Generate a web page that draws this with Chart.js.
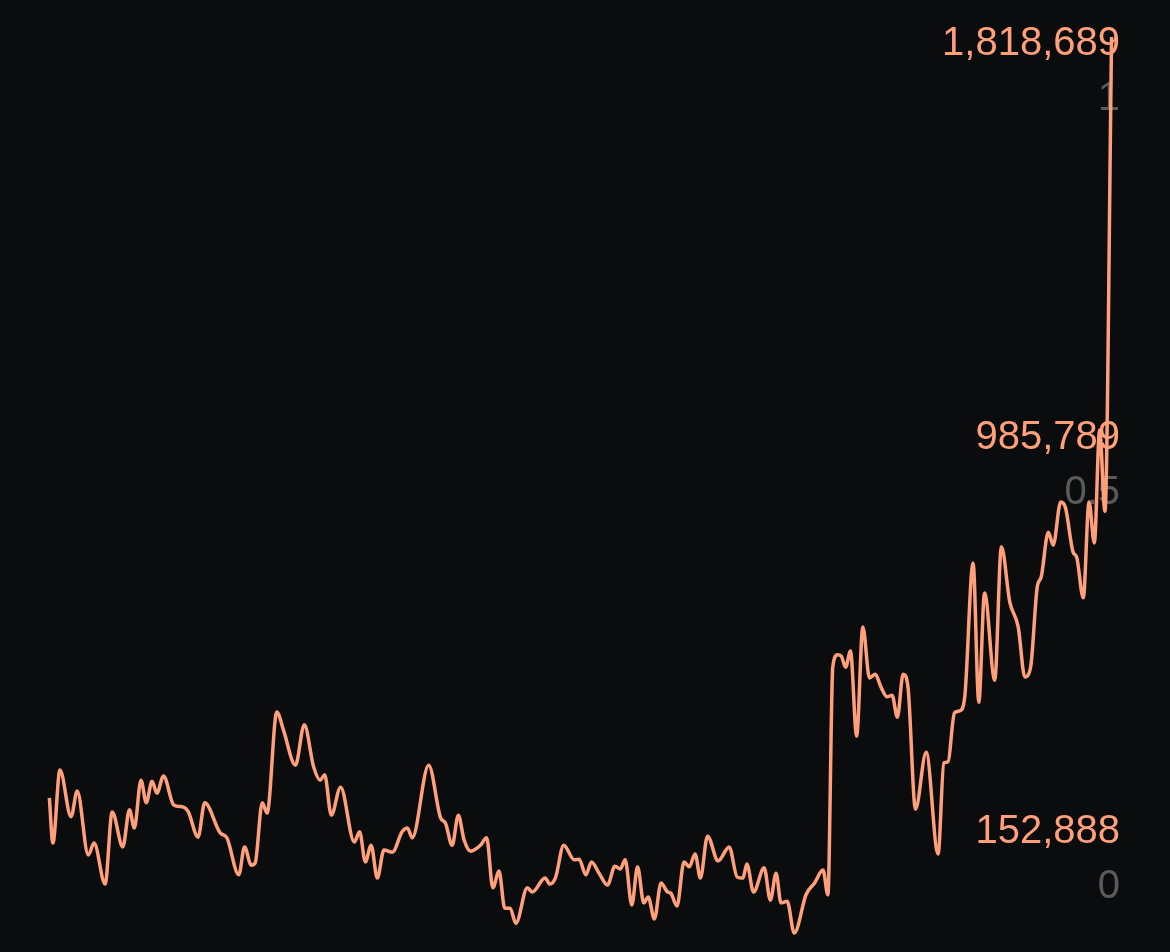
<!DOCTYPE html>
<html>
<head>
<meta charset="utf-8">
<script src="https://cdn.jsdelivr.net/npm/chart.js@4.4.1/dist/chart.umd.min.js"></script>
<style>
  html, body { margin: 0; padding: 0; background: #0b0c0e; }
  #wrap { width: 1170px; height: 952px; position: relative; }
</style>
</head>
<body>
<div id="wrap"><canvas id="chart"></canvas></div>
<script>
// Series (day index, value)
const days = [
  0, 0.8, 2.4, 4.9, 6.3, 8.8, 10.1, 12.6, 14.2, 16.6, 18.1, 19.2, 20.7, 21.9, 23.2, 24.3,
  25.8, 28.1, 30.3, 31.4, 33.6, 35.1, 38.6, 40.1, 42.8, 44.1, 45.6, 46.5, 48.1, 49.2, 51.4, 52.9,
  55.6, 57.6, 59.7, 61.2, 62.2, 63.7, 65.8, 68.9, 70.1, 71.4, 72.7, 74.1, 75.6, 77.5, 79.7, 80.9,
  82.0, 85.7, 88.4, 89.5, 91.0, 92.4, 93.7, 95.2, 97.4, 98.8, 100.2, 101.6, 102.9, 104.1, 105.4, 108.0,
  109.1, 112.0, 113.1, 114.4, 116.2, 118.6, 119.7, 121.2, 122.5, 124.2, 126.1, 127.8, 129.0, 130.1, 131.6, 132.9,
  134.3, 135.3, 136.7, 138.2, 139.7, 140.4, 141.8, 143.4, 144.6, 145.9, 147.1, 148.7, 151.1, 153.6, 155.4, 156.7,
  157.6, 159.1, 161.5, 162.9, 164.2, 165.3, 166.7, 168.3, 171.0, 172.9, 174.8, 175.9, 177.0, 178.1, 178.9, 179.9,
  181.0, 182.4, 183.8, 185.3, 186.6, 187.9, 189.3, 190.4, 191.6, 192.9, 194.0, 195.7, 198.1, 200.8, 202.1, 203.0,
  204.5, 205.7, 206.8, 208.7, 210.0, 211.3, 213.6, 215.1, 217.0, 218.9, 220.4, 221.7, 223.2, 224.1, 225.7, 226.8,
  228.5, 229.6, 231.3, 232.1, 233.6, 234.9, 236.1, 237.3, 238.5, 240.0
];
const values = [
  404000, 320000, 456000, 369000, 417000, 298000, 320000, 244000, 378000, 313000, 382000, 348000, 437000, 395000, 435000, 413000,
  445000, 391000, 387000, 378000, 331000, 395000, 339000, 330000, 261000, 313000, 279000, 283000, 395000, 376000, 564000, 530000,
  465000, 540000, 462000, 437000, 447000, 372000, 424000, 322000, 341000, 285000, 316000, 255000, 307000, 303000, 341000, 348000,
  330000, 465000, 367000, 357000, 316000, 372000, 326000, 305000, 316000, 330000, 237000, 268000, 199000, 199000, 171000, 237000,
  229000, 255000, 244000, 257000, 316000, 289000, 290000, 261000, 285000, 264000, 242000, 277000, 272000, 289000, 205000, 276000,
  209000, 220000, 179000, 246000, 229000, 227000, 203000, 285000, 276000, 300000, 255000, 333000, 287000, 313000, 257000, 255000,
  281000, 229000, 274000, 214000, 264000, 209000, 212000, 152888, 225000, 246000, 270000, 224000, 647000, 670000, 668000, 647000,
  677000, 519000, 722000, 627000, 634000, 610000, 592000, 595000, 554000, 634000, 610000, 383000, 489000, 300000, 469000, 471000,
  562000, 566000, 590000, 841000, 582000, 785000, 623000, 871000, 768000, 722000, 629000, 647000, 796000, 815000, 898000, 874000,
  954000, 943000, 861000, 852000, 776000, 954000, 878000, 1088000, 937000, 1818689
];
// Normalised ticks on the grey axis
const normTicks = [0, 0.5, 1];

const ctx = document.getElementById('chart').getContext('2d');

const dataMin = Math.min(...values);
const dataMax = Math.max(...values);
const range = dataMax - dataMin;
const dataMid = Math.round((dataMin + dataMax) / 2);

// grey scale room above 1 and below 0
const normLo = -0.0825;
const normHi = 1.1256;

const fontFamily = '"Liberation Sans", Arial, sans-serif';
const lineColor = '#ffa07a';
const greyColor = '#5a5a5a';

// labels sit inside the plot, so the axes should not reserve room for them
function noPadding(axis) {
  axis.paddingTop = 0;
  axis.paddingBottom = 0;
  axis.width = 0;
}

new Chart(ctx, {
  type: 'line',
  data: {
    datasets: [{
      data: days.map((d, i) => ({ x: d, y: values[i] })),
      borderColor: lineColor,
      borderWidth: 3.5,
      pointRadius: 0,
      cubicInterpolationMode: 'monotone',
      fill: false,
      yAxisID: 'y'
    }]
  },
  options: {
    responsive: true,
    maintainAspectRatio: false,
    animation: false,
    layout: { padding: { left: 0, right: 50, top: 0, bottom: 0 } },
    plugins: { legend: { display: false }, tooltip: { enabled: false } },
    scales: {
      x: {
        type: 'linear',
        display: false,
        min: -11.15,
        max: 241.9
      },
      y: {
        type: 'linear',
        display: false,
        min: dataMin - range * 0.0212,
        max: dataMax + range * 0.0413
      },
      norm: {
        type: 'linear',
        position: 'right',
        min: normLo,
        max: normHi,
        grid: { display: false, drawTicks: false },
        border: { display: false },
        afterBuildTicks: axis => { axis.ticks = normTicks.map(v => ({ value: v })); },
        afterFit: noPadding,
        ticks: {
          mirror: true,
          padding: 0,
          color: greyColor,
          font: { family: fontFamily, size: 40 },
          callback: v => String(v)
        }
      },
      amount: {
        type: 'linear',
        position: 'right',
        min: dataMin + normLo * range,
        max: dataMin + normHi * range,
        grid: { display: false, drawTicks: false },
        border: { display: false },
        afterBuildTicks: axis => {
          axis.ticks = [dataMin, dataMid, dataMax].map(v => ({ value: v }));
        },
        afterFit: noPadding,
        ticks: {
          mirror: true,
          padding: 0,
          labelOffset: -55,
          color: lineColor,
          font: { family: fontFamily, size: 40 },
          callback: v => Math.round(v).toLocaleString('en-US')
        }
      }
    }
  }
});
</script>
</body>
</html>
